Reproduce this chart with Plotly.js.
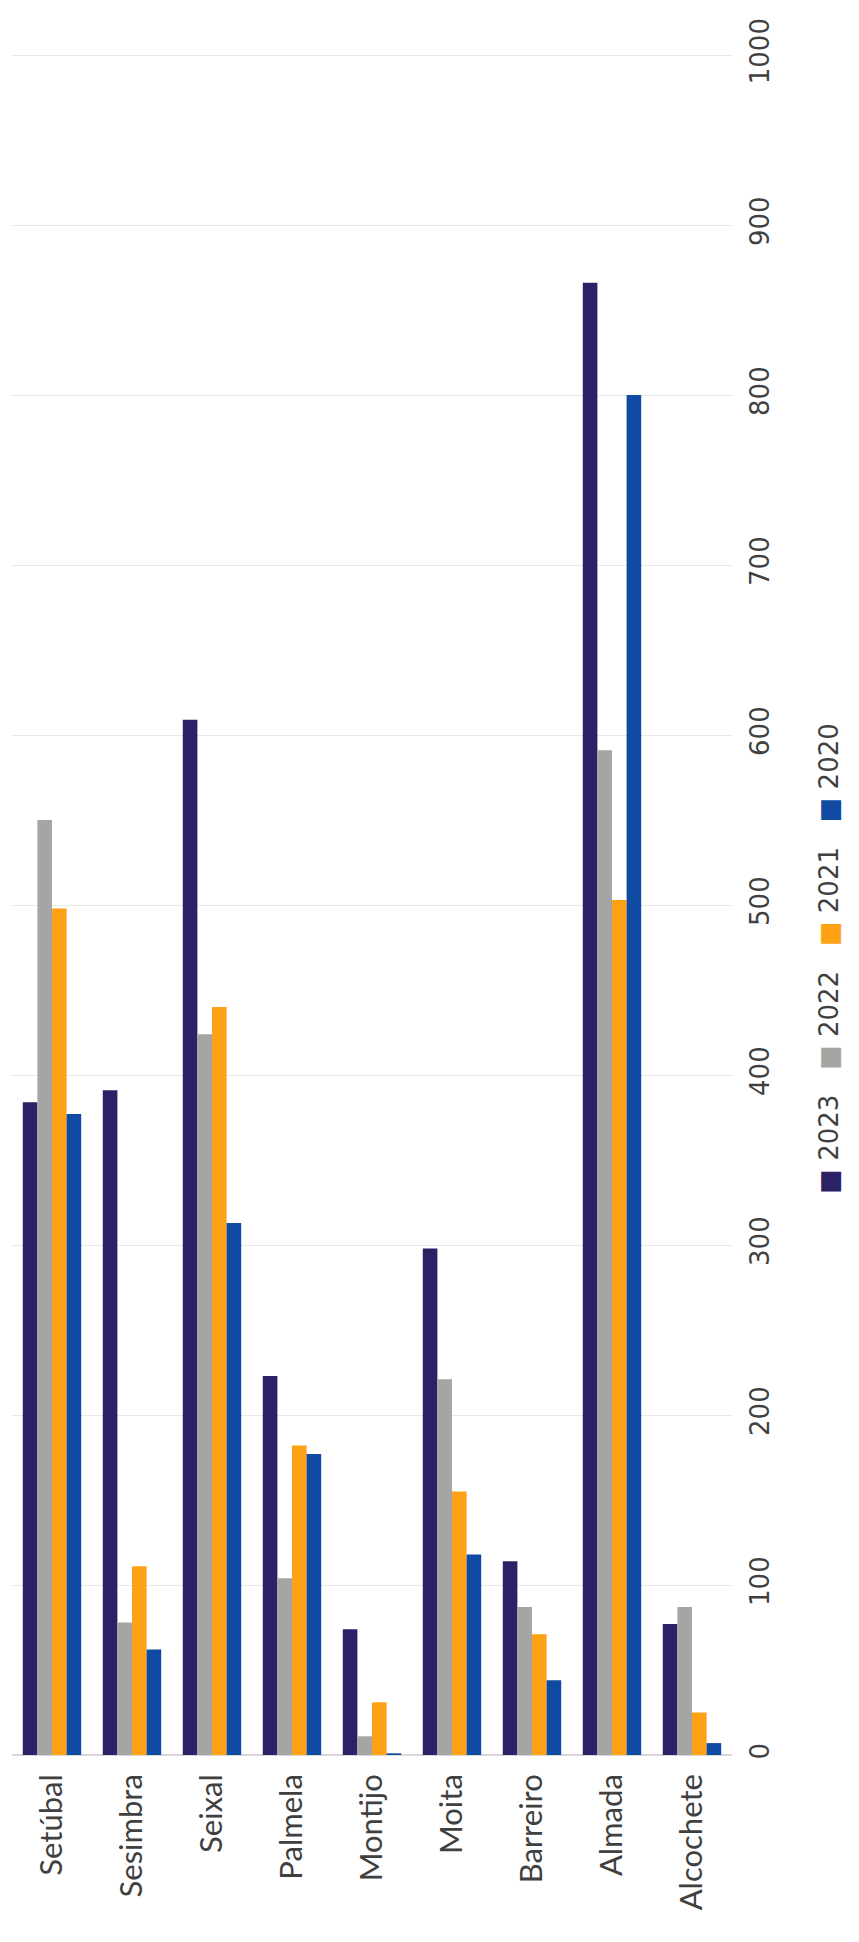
<!DOCTYPE html>
<html>
<head>
<meta charset="utf-8">
<script src="https://cdn.plot.ly/plotly-3.0.1.min.js"></script>
<style>
  html, body { margin: 0; padding: 0; background: #ffffff; }
  #chart { width: 859px; height: 1942px; }
</style>
</head>
<body>
<div id="chart"></div>
<script>
// Categories (municipalities)
const categories = ["Setúbal", "Sesimbra", "Seixal", "Palmela", "Montijo", "Moita", "Barreiro", "Almada", "Alcochete"];

// Series
const seriesNames = ["2023", "2022", "2021", "2020"];
const values2023 = [384, 391, 609, 223, 74, 298, 114, 866, 77];
const values2022 = [550, 78, 424, 104, 11, 221, 87, 591, 87];
const values2021 = [498, 111, 440, 182, 31, 155, 71, 503, 25];
const values2020 = [377, 62, 313, 177, 1, 118, 44, 800, 7];
const seriesColors = ["#2c2165", "#a5a5a5", "#ffa115", "#0f4aa3"];

// Value axis ticks
const tickValues = [0, 100, 200, 300, 400, 500, 600, 700, 800, 900, 1000];

const seriesValues = [values2023, values2022, values2021, values2020];

const traces = seriesNames.map((name, i) => ({
  type: "bar",
  name: name,
  x: categories,
  y: seriesValues[i],
  marker: { color: seriesColors[i] },
  showlegend: false,
  hoverinfo: "x+y+name"
}));

// Rotated legend drawn as one annotation built from the series arrays
const legendText = seriesNames.map((name, i) =>
  `<span style="color:${seriesColors[i]}">■</span> ${name}`
).join("   ");

const layout = {
  width: 859,
  height: 1942,
  margin: { t: 53, b: 187, l: 12, r: 127, pad: 0 },
  paper_bgcolor: "#ffffff",
  plot_bgcolor: "#ffffff",
  barmode: "group",
  bargap: 0.27,
  bargroupgap: 0,
  font: { family: "DejaVu Sans, sans-serif", color: "#404040" },
  xaxis: {
    type: "category",
    tickangle: -90,
    tickfont: { family: "Lato, sans-serif", size: 31, color: "#404040" },
    showgrid: false,
    showline: false,
    ticks: "",
    ticklabelstandoff: 12
  },
  yaxis: {
    side: "right",
    range: [0, 1001.2],
    tickvals: tickValues,
    ticktext: tickValues.map(String),
    tickangle: -90,
    tickfont: { family: "DejaVu Sans, sans-serif", size: 26, color: "#404040" },
    showgrid: true,
    gridcolor: "#e8e8e8",
    gridwidth: 1,
    zeroline: true,
    zerolinecolor: "#d9d9d9",
    zerolinewidth: 1.5,
    showline: false,
    ticks: "",
    ticklabelstandoff: 10
  },
  annotations: [{
    xref: "paper", yref: "paper",
    x: 1.135, y: 0.468,
    xanchor: "center", yanchor: "middle",
    text: legendText,
    textangle: -90,
    showarrow: false,
    font: { family: "DejaVu Sans, sans-serif", size: 26, color: "#404040" }
  }]
};

Plotly.newPlot("chart", traces, layout, { displayModeBar: false, staticPlot: true });
</script>
</body>
</html>
